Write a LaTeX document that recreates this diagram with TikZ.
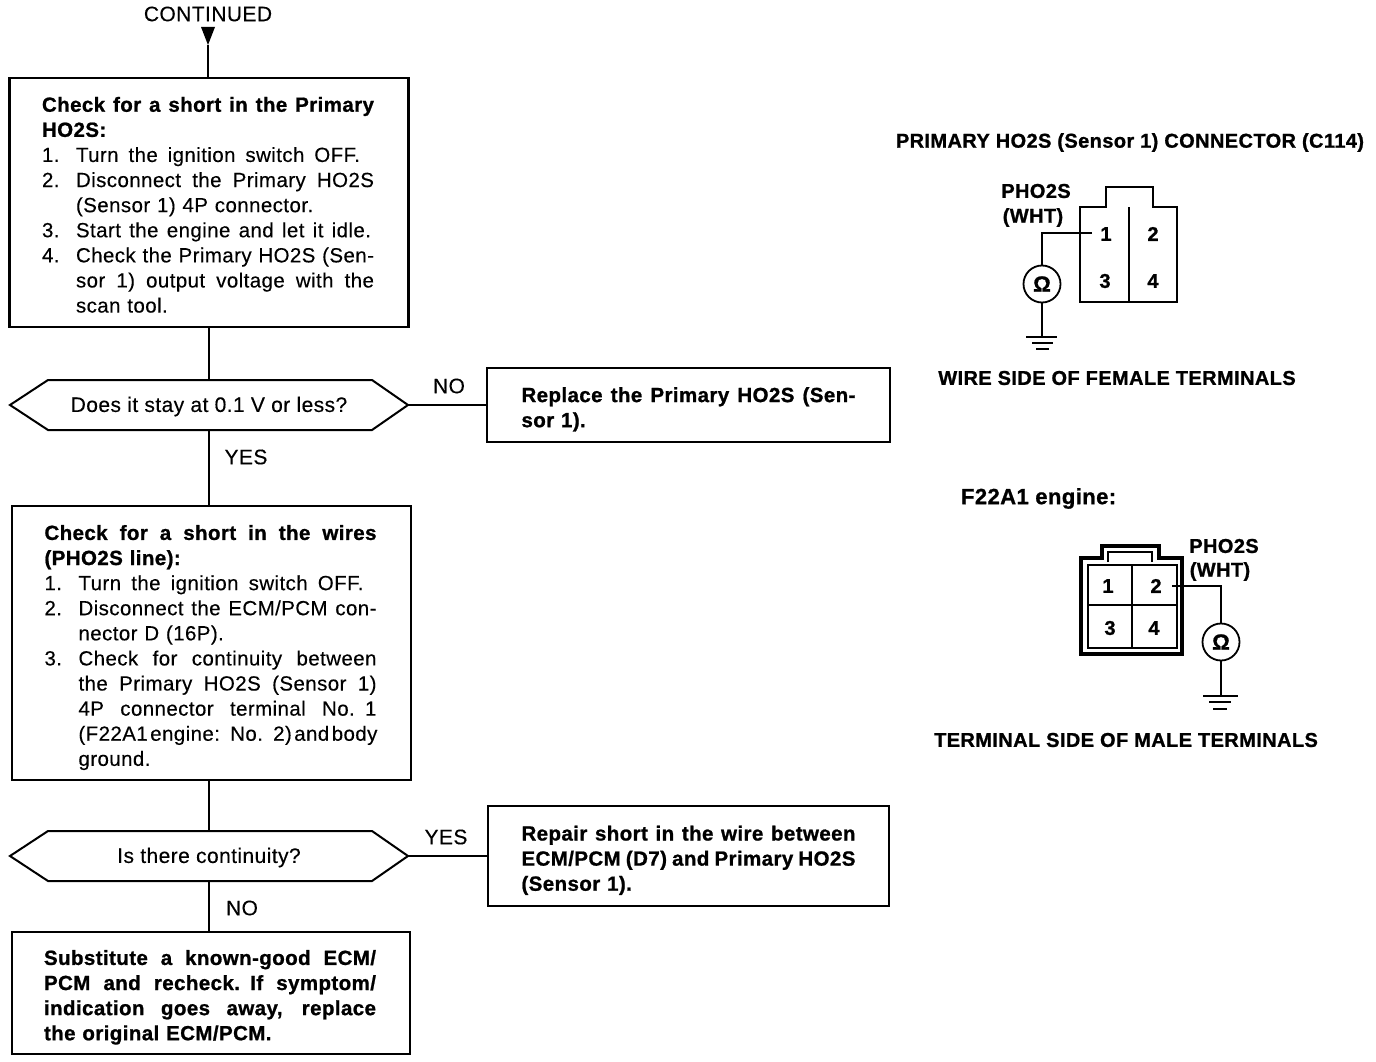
\documentclass[tikz,border=0pt]{standalone}
\usepackage{fontspec}
\setmainfont{Liberation Sans}[LetterSpace=2,FakeBold=0.25,BoldFeatures={FakeBold=1.0}]
\usetikzlibrary{shapes.geometric,arrows.meta}
\newcommand{\Fs}{\fontsize{21}{25.1}\selectfont}
\newcommand{\Sp}{\spaceskip=.27em plus 1fil minus .15em\relax}
\newcommand{\Ln}[2]{\makebox[#1pt][s]{\Sp #2}\\}
\newcommand{\Lq}[3]{\makebox[34pt][l]{#1}\makebox[#2pt][s]{\Sp #3}\\}
\newcommand{\Lp}[1]{\hspace*{34pt}#1\\}
\newcommand{\Lr}[2]{\hspace*{34pt}\makebox[#1pt][s]{\Sp #2}\\}
\tikzset{
  x=1pt,y=-1pt,
  every node/.style={inner sep=0pt,outer sep=0pt,font=\Fs},
  boxst/.style={draw,line width=2.8pt,rectangle,text width=334pt,align=left,font=\fontsize{20.5}{25.1}\selectfont},
  hexst/.style={draw,line width=2pt,line join=miter},
  conn/.style={line width=2.2pt},
  thinw/.style={line width=1.6pt},
  heavy/.style={line width=2.6pt},
  lab/.style={font=\Fs},
  head/.style={font=\fontsize{20}{24}\selectfont\bfseries},
  num/.style={font=\fontsize{20}{24}\selectfont\bfseries},
  meter/.style={draw,circle,line width=1.8pt,minimum size=37pt,font=\fontsize{22}{24}\selectfont\bfseries},
}
\begin{document}
\begin{tikzpicture}
\useasboundingbox (0,0) rectangle (1376,1062);
% flow boxes
\node[lab] (cont) at (208,14) {CONTINUED};
\coordinate (tip) at (208,45);
\node[boxst,minimum width=399pt,minimum height=249pt] (b1) at (209,202.5) {\rule{0pt}{19.5pt}%
\textbf{\Ln{332}{Check for a short in the Primary}}
\textbf{HO2S:}\\
\Lq{1.}{284}{Turn the ignition switch OFF.}
\Lq{2.}{298}{Disconnect the Primary HO2S}
\Lp{(Sensor 1) 4P connector.}
\Lq{3.}{295}{Start the engine and let it idle.}
\Lq{4.}{298}{Check the Primary HO2S (Sen-}
\Lr{298}{sor 1) output voltage with the}
\Lp{scan tool.}};
\node (h1) at (209,406.5) {Does it stay at 0.1 V or less?};
\draw[hexst] (10,405) -- (48,380) -- (372,380) -- (408,405) -- (372,430) -- (48,430) -- cycle;
\coordinate (h1l) at (408,405);
\node[boxst,minimum width=403pt,minimum height=74pt] (b2) at (688.5,405) {\rule{0pt}{23.5pt}%
\textbf{\Ln{334}{Replace the Primary HO2S (Sen-}}
\textbf{sor 1).}};
\node[boxst,minimum width=399pt,minimum height=274pt] (b3) at (211.5,643) {\rule{0pt}{24pt}%
\textbf{\Ln{332}{Check for a short in the wires}}
\textbf{(PHO2S line):}\\
\Lq{1.}{285}{Turn the ignition switch OFF.}
\Lq{2.}{298}{Disconnect the ECM/PCM con-}
\Lp{nector D (16P).}
\Lq{3.}{298}{Check for continuity between}
\Lr{298}{the Primary HO2S (Sensor 1)}
\Lr{298}{4P connector terminal No. 1}
\Lr{298}{(F22A1 engine: No. 2) and body}
\Lp{ground.}};
\node (h2) at (209,857.5) {Is there continuity?};
\draw[hexst] (10,856) -- (48,831) -- (372,831) -- (408,856) -- (372,881) -- (48,881) -- cycle;
\coordinate (h2l) at (408,856);
\node[boxst,minimum width=401pt,minimum height=100pt] (b4) at (688.5,856) {\rule{0pt}{23.5pt}%
\textbf{\Ln{334}{Repair short in the wire between}}
\textbf{\Ln{334}{ECM/PCM (D7) and Primary HO2S}}
\textbf{(Sensor 1).}};
\node[boxst,minimum width=398pt,minimum height=122pt] (b5) at (211,993) {\rule{0pt}{23.5pt}%
\textbf{\Ln{332}{Substitute a known-good ECM/}}
\textbf{\Ln{332}{PCM and recheck. If symptom/}}
\textbf{\Ln{332}{indication goes away, replace}}
\textbf{the original ECM/PCM.}};
% connectors
\fill (201,27) -- (215,27) -- (tip) -- cycle;
\draw[conn] (tip) -- (208,78);
\draw[conn] (209,327) -- (209,380);
\draw[conn] (209,430) -- (209,506);
\draw[conn] (209,780) -- (209,831);
\draw[conn] (209,881) -- (209,932);
\draw[conn,line width=2.6pt] (h1l) -- (b2.west);
\draw[thinw] (h2l) -- (b4.west);
\node[lab] (no1) at (449,386) {NO};
\node[lab] (yes1) at (246,457) {YES};
\node[lab] (yes2) at (446,837) {YES};
\node[lab] (no2) at (242,908) {NO};
% upper connector
\node[head] (t1) at (1130,142.5) {PRIMARY HO2S (Sensor 1) CONNECTOR (C114)};
\node[head] (p1) at (1036,191) {PHO2S};
\node[head] (w1) at (1033,217.5) {(WHT)};
\draw[heavy,line join=miter] (1080,207) -- (1106,207) -- (1106,187) -- (1153,187) -- (1153,207) -- (1177,207) -- (1177,302) -- (1080,302) -- cycle;
\draw[line width=1.2pt] (1129,207) -- (1129,302);
\node[num] (n11) at (1106,234) {1};
\node[num] (n12) at (1153,234) {2};
\node[num] (n13) at (1105,281) {3};
\node[num] (n14) at (1153,281) {4};
\node[meter] (m1) at (1042,284) {Ω};
\coordinate (c1) at (1092,233);
\coordinate (g1) at (1042,337);
\draw[line width=1.8pt] (c1) -| (m1.north);
\draw[line width=1.8pt] (m1.south) -- (g1);
\draw[thinw] (1026,337) -- (1057,337) (1032,343) -- (1053,343) (1036,349) -- (1049,349);
\node[head] (t2) at (1117,378) {WIRE SIDE OF FEMALE TERMINALS};
% lower connector
\node[font=\fontsize{22}{26}\selectfont\bfseries,anchor=west] (f1) at (961,498.5) {F22A1 engine:};
\node[head] (p2) at (1224,546) {PHO2S};
\node[head] (w2) at (1220,571.5) {(WHT)};
\draw[line width=3.4pt,line join=miter] (1081,558) -- (1102,558) -- (1102,546) -- (1159,546) -- (1159,558) -- (1182,558) -- (1182,654) -- (1081,654) -- cycle;
\draw[line width=2pt] (1088,565) rectangle (1177,648);
\draw[line width=1.6pt] (1108,562) -- (1108,552) -- (1152,552) -- (1152,562);
\draw[line width=1.4pt] (1132,565) -- (1132,648) (1088,605) -- (1177,605);
\node[num] (n21) at (1108,586) {1};
\node[num] (n22) at (1156,586) {2};
\node[num] (n23) at (1110,628) {3};
\node[num] (n24) at (1154,628) {4};
\node[meter] (m2) at (1221,642) {Ω};
\coordinate (c2) at (1172,586);
\coordinate (g2) at (1221,696);
\draw[line width=1.8pt] (c2) -| (m2.north);
\draw[line width=1.8pt] (m2.south) -- (g2);
\draw[thinw] (1203,696) -- (1238,696) (1209,702) -- (1231,702) (1213,709) -- (1227,709);
\node[head] (t3) at (1126,740) {TERMINAL SIDE OF MALE TERMINALS};
\end{tikzpicture}
\end{document}
